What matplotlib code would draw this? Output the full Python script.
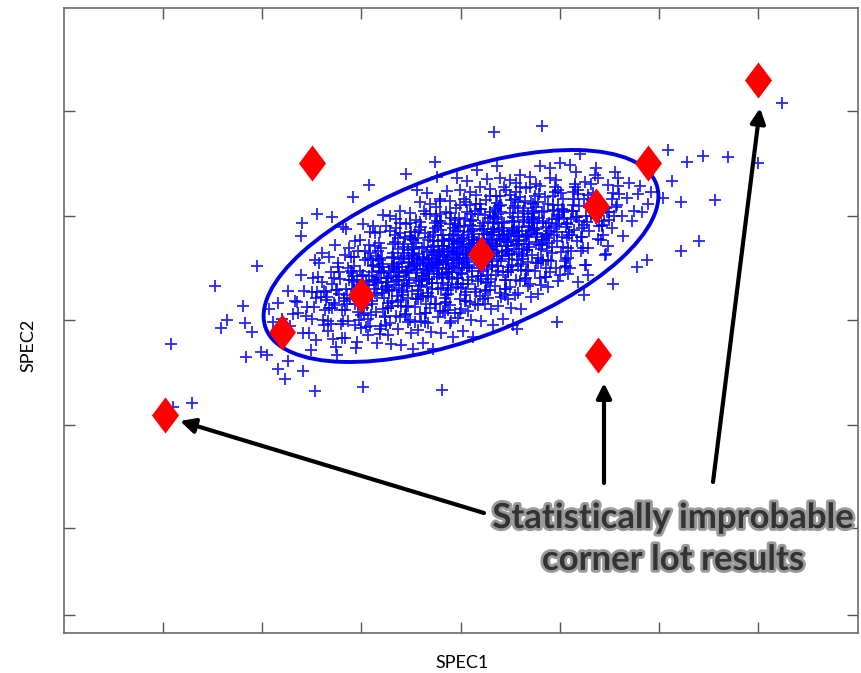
import numpy as np
import matplotlib.pyplot as plt
from matplotlib.patches import Ellipse
import matplotlib.patheffects as pe

# SPEC1 / SPEC2 in arbitrary units, zero at the nominal process point
cloud = [
    (-192, -53), (-188, -66),
    (-183, -47), (-179, -63), (-182, -72),
    (-173, -35), (-168, -58), (-171, -70), (-166, -45),
    (-164, -46), (-158, -77), (-160, -19), (-163, -57), (-157, -35),
    (-154, -51), (-148, -22), (-152, -77), (-149, -36), (-155, -60), (-146, -4), (-150, -94),
    (-144, -36), (-138, -64), (-142, -7), (-136, -54), (-140, -41), (-145, -84), (-139, 3), (-137, -69),
    (-134, -41), (-127, -22), (-133, -75), (-129, -28), (-126, -49), (-132, -1), (-128, -83), (-135, -36),
    (-130, -16), (-125, -91),
    (-124, -34), (-118, -65), (-123, -7), (-117, -45), (-121, -23), (-119, -82), (-126, 11), (-116, -54),
    (-122, -16), (-124, -99), (-118, 29),
    (-114, -39), (-107, -10), (-113, -65), (-109, -24), (-106, -48), (-112, 8), (-116, -82), (-108, -33),
    (-110, -15), (-105, -92), (-115, 27), (-111, -43), (-107, -1),
    (-104, -24), (-98, -52), (-103, 5), (-99, -42), (-102, -29), (-100, -72), (-106, 15), (-97, -57),
    (-101, -15), (-104, -86), (-98, 32), (-103, -37), (-96, -4), (-102, -64), (-99, -20),
    (-94, -29), (-88, -10), (-93, -63), (-89, -16), (-86, -37), (-92, 11), (-95, -71), (-87, -24),
    (-90, -4), (-93, -79), (-88, 30), (-95, -43), (-91, 3), (-85, -56), (-92, -20), (-89, -48),
    (-84, -22), (-78, -53), (-83, 5), (-79, -33), (-82, -11), (-80, -70), (-86, 23), (-77, -42),
    (-81, -4), (-84, -87), (-78, 41), (-83, -27), (-80, -16), (-76, -61), (-82, 13), (-79, -37),
    (-85, 0), (-81, -78),
    (-74, -26), (-68, 3), (-73, -52), (-69, -11), (-72, -35), (-66, 21), (-75, -69), (-70, -20),
    (-67, -2), (-73, -79), (-71, 40), (-74, -30), (-68, 12), (-65, -60), (-72, -15), (-69, -45),
    (-75, 30), (-70, -88), (-67, -8), (-73, -22),
    (-64, -11), (-58, -39), (-63, 18), (-59, -29), (-62, -16), (-56, -59), (-65, 28), (-60, -44),
    (-57, -2), (-63, -73), (-61, 45), (-64, -24), (-58, 9), (-55, -51), (-62, -7), (-59, -34),
    (-65, 37), (-60, -89), (-57, 3), (-63, -21), (-61, 23),
    (-54, -16), (-48, 3), (-53, -50), (-49, -3), (-52, -24), (-46, 24), (-55, -58), (-50, -11),
    (-47, 9), (-53, -66), (-51, 43), (-54, -30), (-48, 16), (-45, -43), (-52, -7), (-49, -35),
    (-55, 32), (-50, -77), (-47, 0), (-53, -14), (-51, 20), (-48, -93),
    (-44, -9), (-38, -40), (-43, 18), (-39, -20), (-42, 2), (-36, -57), (-45, 36), (-40, -29),
    (-37, 9), (-43, -74), (-41, 54), (-44, -14), (-38, -3), (-35, -48), (-42, 26), (-39, -24),
    (-45, 13), (-40, -65), (-37, 45), (-43, -34), (-41, -7), (-38, -87), (-44, 66),
    (-34, -14), (-28, 15), (-33, -40), (-29, 1), (-32, -23), (-26, 33), (-35, -57), (-30, -8),
    (-27, 10), (-33, -67), (-31, 52), (-34, -18), (-28, 24), (-25, -48), (-32, -3), (-29, -33),
    (-35, 42), (-30, -76), (-27, 4), (-33, -10), (-31, 19), (-28, -93), (-34, 63), (-29, -27),
    (-24, 1), (-18, -27), (-23, 30), (-19, -17), (-22, -4), (-16, -47), (-25, 40), (-20, -32),
    (-17, 10), (-23, -61), (-21, 57), (-24, -12), (-18, 21), (-15, -39), (-22, 5), (-19, -22),
    (-25, 49), (-20, -77), (-17, 15), (-23, -9), (-21, 35), (-18, -55), (-24, 79), (-19, -19),
    (-22, -6),
    (-14, -4), (-8, 15), (-13, -38), (-9, 9), (-12, -12), (-6, 36), (-15, -46), (-10, 1),
    (-7, 21), (-13, -54), (-11, 55), (-14, -18), (-8, 28), (-5, -31), (-12, 5), (-9, -23),
    (-15, 44), (-10, -65), (-7, 12), (-13, -2), (-11, 32), (-8, -81), (-14, 65), (-9, -10),
    (-12, 17),
    (-4, 3), (2, -28), (-3, 30), (1, -8), (-2, 14), (4, -45), (-5, 48), (0, -17),
    (3, 21), (-3, -62), (-1, 66), (-4, -2), (2, 9), (5, -36), (-2, 38), (1, -12),
    (-5, 25), (0, -53), (3, 57), (-3, -22), (-1, 5), (2, -75), (-4, 78), (1, 17),
    (-2, -4),
    (6, -2), (12, 27), (7, -28), (11, 13), (8, -11), (14, 45), (5, -45), (10, 4),
    (13, 22), (7, -55), (9, 64), (6, -6), (12, 36), (15, -36), (8, 9), (11, -21),
    (5, 54), (10, -64), (13, 16), (7, 2), (9, 31), (12, -81), (6, 75), (11, -15),
    (8, 11),
    (16, 13), (22, -15), (17, 42), (21, -5), (18, 8), (24, -35), (15, 52), (20, -20),
    (23, 22), (17, -49), (19, 69), (16, 0), (22, 33), (25, -27), (18, 17), (21, -10),
    (15, 61), (20, -65), (23, 27), (17, 3), (19, 47), (22, -43), (16, 86), (21, -7),
    (18, 6),
    (26, 8), (32, 27), (27, -26), (31, 21), (28, 0), (34, 48), (25, -34), (30, 13),
    (33, 33), (27, -42), (29, 67), (26, -6), (32, 40), (35, -19), (28, 17), (31, -11),
    (25, 56), (30, -53), (33, 24), (27, 10), (29, 44), (32, -69), (26, 77), (31, 2),
    (36, 15), (42, -16), (37, 42), (41, 4), (38, 26), (44, -33), (35, 60), (40, -5),
    (43, 33), (37, -50), (39, 78), (36, 10), (42, 21), (45, -24), (38, 50), (41, 0),
    (35, 37), (40, -41), (43, 69), (37, -10), (39, 17), (42, -63), (36, 90),
    (46, 10), (52, 39), (47, -16), (51, 25), (48, 1), (54, 57), (45, -33), (50, 16),
    (53, 34), (47, -43), (49, 76), (46, 6), (52, 48), (55, -24), (48, 21), (51, -9),
    (45, 66), (50, -52), (53, 28), (47, 14), (49, 43), (52, -69),
    (56, 25), (62, -3), (57, 54), (61, 7), (58, 20), (64, -23), (55, 64), (60, -8),
    (63, 34), (57, -37), (59, 81), (56, 12), (62, 45), (65, -15), (58, 29), (61, 2),
    (55, 73), (60, -53), (63, 39), (57, 15), (59, 59),
    (66, 20), (72, 39), (67, -14), (71, 33), (68, 12), (74, 60), (65, -22), (70, 25),
    (73, 45), (67, -30), (69, 79), (66, 6), (72, 52), (75, -7), (68, 29), (71, 1),
    (65, 68), (70, -41), (73, 36), (67, 22),
    (76, 27), (82, -4), (77, 54), (81, 16), (78, 38), (84, -21), (75, 72), (80, 7),
    (83, 45), (77, -38), (79, 90), (76, 22), (82, 33), (85, -12), (78, 62), (81, 12),
    (75, 49), (80, -29),
    (86, 22), (92, 51), (87, -4), (91, 37), (88, 13), (94, 69), (85, -21), (90, 28),
    (93, 46), (87, -31), (89, 88), (86, 18), (92, 60), (95, -12), (88, 33), (91, 3),
    (96, 37), (102, 9), (97, 66), (101, 19), (98, 32), (104, -11), (95, 76), (100, 4),
    (103, 46), (97, -25), (99, 93), (96, 24), (102, 57), (105, -3), (98, 41),
    (106, 32), (112, 51), (107, -2), (111, 45), (108, 24), (114, 72), (105, -10), (110, 37),
    (113, 57), (107, -18), (109, 91), (106, 18), (112, 64),
    (116, 39), (122, 8), (117, 66), (121, 28), (118, 50), (124, -9), (115, 84), (120, 19),
    (123, 57), (117, -26), (119, 102),
    (126, 34), (132, 63), (127, 8), (131, 49), (128, 25), (134, 81), (125, -9), (130, 40),
    (133, 58), (127, -19),
    (136, 49), (142, 21), (137, 78), (141, 31), (138, 44), (144, 1), (135, 88), (140, 16),
    (146, 44), (152, 63), (147, 10), (151, 57), (148, 36), (154, 84), (145, 2),
    (156, 51), (162, 20), (157, 78), (161, 40), (158, 62),
    (166, 58), (171, 35), (168, 73), (173, 45),
    (177, 62), (181, 44), (179, 70),
    (187, 52), (190, 64),
]

# the dense middle of the cloud
cloud_core = [
    (-145, -42), (-149, -63), (-143, -21), (-147, -51),
    (-135, -44), (-139, -26), (-133, -65), (-137, -35), (-132, -52),
    (-125, -34), (-129, -52), (-123, -11), (-127, -47), (-122, -38), (-130, -68),
    (-115, -33), (-119, -54), (-113, -12), (-117, -42), (-112, -24), (-120, -68), (-116, 1), (-114, -48),
    (-105, -35), (-109, -17), (-103, -56), (-107, -26), (-102, -43), (-110, -1), (-106, -69), (-104, -31),
    (-108, -20),
    (-95, -25), (-99, -43), (-93, -2), (-97, -38), (-92, -29), (-100, -59), (-96, 5), (-94, -49),
    (-98, -19), (-91, -70), (-101, 16),
    (-85, -24), (-89, -45), (-83, -3), (-87, -33), (-82, -15), (-90, -59), (-86, 10), (-84, -39),
    (-88, -9), (-81, -73), (-91, 24), (-85, -26),
    (-75, -26), (-79, -8), (-73, -47), (-77, -17), (-72, -34), (-80, 8), (-76, -60), (-74, -22),
    (-78, -11), (-71, -67), (-81, 24), (-75, -31), (-79, -2), (-73, -52),
    (-65, -16), (-69, -34), (-63, 7), (-67, -29), (-62, -20), (-70, -50), (-66, 14), (-64, -40),
    (-68, -10), (-61, -61), (-71, 25), (-65, -25), (-69, -1), (-63, -46), (-67, -13), (-62, -32),
    (-55, -15), (-59, -36), (-53, 6), (-57, -24), (-52, -6), (-60, -50), (-56, 19), (-54, -30),
    (-58, 0), (-51, -64), (-61, 33), (-55, -17), (-59, -11), (-53, -42), (-57, 12), (-52, -27),
    (-60, -3),
    (-45, -17), (-49, 1), (-43, -38), (-47, -8), (-42, -25), (-50, 17), (-46, -51), (-44, -13),
    (-48, -2), (-41, -58), (-51, 33), (-45, -22), (-49, 7), (-43, -43), (-47, -10), (-42, -30),
    (-50, 24), (-46, -66), (-44, -5),
    (-35, -7), (-39, -25), (-33, 16), (-37, -20), (-32, -11), (-40, -41), (-36, 23), (-34, -31),
    (-38, -1), (-31, -52), (-41, 34), (-35, -16), (-39, 8), (-33, -37), (-37, -4), (-32, -23),
    (-40, 29), (-36, -66), (-34, 4), (-38, -13),
    (-25, -6), (-29, -27), (-23, 15), (-27, -15), (-22, 3), (-30, -41), (-26, 28), (-24, -21),
    (-28, 9), (-21, -55), (-31, 42), (-25, -8), (-29, -2), (-23, -33), (-27, 21), (-22, -18),
    (-30, 6), (-26, -48), (-24, 35), (-28, -12), (-21, 0),
    (-15, -8), (-19, 10), (-13, -29), (-17, 1), (-12, -16), (-20, 26), (-16, -42), (-14, -4),
    (-18, 7), (-11, -49), (-21, 42), (-15, -13), (-19, 16), (-13, -34), (-17, -1), (-12, -21),
    (-20, 33), (-16, -57), (-14, 4), (-18, -6), (-11, 21), (-21, 55),
    (-5, 2), (-9, -16), (-3, 25), (-7, -11), (-2, -2), (-10, -32), (-6, 32), (-4, -22),
    (-8, 8), (-1, -43), (-11, 43), (-5, -7), (-9, 17), (-3, -28), (-7, 5), (-2, -14),
    (-10, 38), (-6, -57), (-4, 13), (-8, -4), (-1, 29), (-11, -67),
    (5, 3), (1, -18), (7, 24), (3, -6), (8, 12), (0, -32), (4, 37), (6, -12),
    (2, 18), (9, -46), (-1, 51), (5, 1), (1, 7), (7, -24), (3, 30), (8, -9),
    (0, 15), (4, -39), (6, 44), (2, -3), (9, 9), (-1, -57),
    (15, 1), (11, 19), (17, -20), (13, 10), (18, -7), (10, 35), (14, -33), (16, 5),
    (12, 16), (19, -40), (9, 51), (15, -4), (11, 25), (17, -25), (13, 8), (18, -12),
    (10, 42), (14, -48), (16, 13), (12, 3), (19, 30),
    (25, 11), (21, -7), (27, 34), (23, -2), (28, 7), (20, -23), (24, 41), (26, -13),
    (22, 17), (29, -34), (19, 52), (25, 2), (21, 26), (27, -19), (23, 14), (28, -5),
    (20, 47), (24, -48), (26, 22), (22, 5), (29, 38),
    (35, 12), (31, -9), (37, 33), (33, 3), (38, 21), (30, -23), (34, 46), (36, -3),
    (32, 27), (39, -37), (29, 60), (35, 10), (31, 16), (37, -15), (33, 39), (38, 0),
    (30, 24), (34, -30), (36, 53), (32, 6),
    (45, 10), (41, 28), (47, -11), (43, 19), (48, 2), (40, 44), (44, -24), (46, 14),
    (42, 25), (49, -31), (39, 60), (45, 5), (41, 34), (47, -16), (43, 17), (48, -3),
    (40, 51), (44, -39), (46, 22),
    (55, 20), (51, 2), (57, 43), (53, 7), (58, 16), (50, -14), (54, 50), (56, -4),
    (52, 26), (59, -25), (49, 61), (55, 11), (51, 35), (57, -10), (53, 23), (58, 4),
    (50, 56), (54, -39),
    (65, 21), (61, 0), (67, 42), (63, 12), (68, 30), (60, -14), (64, 55), (66, 6),
    (62, 36), (69, -28), (59, 69), (65, 19), (61, 25), (67, -6), (63, 48), (68, 9),
    (75, 19), (71, 37), (77, -2), (73, 28), (78, 11), (70, 53), (74, -15), (76, 23),
    (72, 34), (79, -22), (69, 69), (75, 14), (71, 43), (77, -7), (73, 26),
    (85, 29), (81, 11), (87, 52), (83, 16), (88, 25), (80, -5), (84, 59), (86, 5),
    (82, 35), (89, -16), (79, 70), (85, 20), (81, 44),
    (95, 30), (91, 9), (97, 51), (93, 21), (98, 39), (90, -5), (94, 64), (96, 15),
    (92, 45), (99, -19), (89, 78),
    (105, 29), (101, 47), (107, 8), (103, 38), (108, 21), (100, 63), (104, -5), (106, 33),
    (102, 44), (109, -12),
    (115, 39), (111, 21), (117, 62), (113, 26), (118, 35), (110, 5), (114, 69), (116, 15),
    (112, 45),
    (125, 40), (121, 19), (127, 61), (123, 31), (128, 49), (120, 5), (124, 74),
    (135, 38), (131, 56), (137, 17), (133, 47), (138, 30), (130, 72),
    (145, 48), (141, 30), (147, 71), (143, 35), (148, 44),
    (155, 49), (151, 28), (157, 70), (153, 40),
]

tails = [
    (321, 153), (207, 106), (226, 94), (242, 100), (267, 99), (297, 93), (211, 75), (220, 54),
    (254, 56), (238, 15), (220, 5), (186, -4), (176, -11), (152, -28), (202, 58), (81, 130),
    (123, -39), (96, -66), (56, -73), (33, 124), (-26, 94), (-55, 82), (-92, 71), (-108, 59),
    (-98, -131), (-19, -134), (-144, 42), (-159, 33), (-160, 20), (-129, 39), (-204, -10),
    (-246, -30), (-218, -50), (-234, -64), (-240, -72), (-216, -67), (-209, -76), (-290, -88),
    (-215, -101), (-200, -96), (-194, -99), (-173, -105), (-183, -113), (-176, -123),
    (-158, -115), (-146, -135), (-269, -147), (-288, -151),
]

# corner lots
corner_x = [-296, -179, -149, -100, 20, 135, 187, 137, 297]
corner_y = [-159, -76, 93, -39, 2, 50, 93, -99, 176]

# covariance behind the 95 % contour
sxx, syy, sxy = 38967.0, 11236.0, 11822.0

# arrows: (tail, head) of the three flagged lots
arrow_tails = [(23, -257), (143, -227), (252, -226)]
arrow_heads = [(-281, -165), (143, -127), (299, 148)]

W, H = 861, 673
fig = plt.figure(figsize=(W / 100, H / 100), dpi=100)
ax = fig.add_axes([64 / W, 40 / H, 794 / W, 625 / H])
ax.set_xlim(-397, 397)
ax.set_ylim(-377, 248)

pts = np.array(cloud + cloud_core + tails)
ax.plot(pts[:, 0], pts[:, 1], linestyle='none', marker='+', markersize=8.5,
        markeredgewidth=1.3, color='#0000ff', alpha=0.85, zorder=2)

vals, vecs = np.linalg.eigh(np.array([[sxx, sxy], [sxy, syy]]))
angle = np.degrees(np.arctan2(vecs[1, 1], vecs[0, 1]))
ax.add_patch(Ellipse((0, 0), 2 * np.sqrt(vals[1]), 2 * np.sqrt(vals[0]), angle=angle,
                     fill=False, edgecolor='#0000e6', linewidth=2.8, zorder=3))

diamond = [(0, 1), (0.75, 0), (0, -1), (-0.75, 0), (0, 1)]
ax.plot(corner_x, corner_y, linestyle='none', marker=diamond, markersize=26,
        color='#ff0000', markeredgewidth=0, zorder=4)

for (tx, ty), (hx, hy) in zip(arrow_tails, arrow_heads):
    ax.annotate('', xy=(hx, hy), xytext=(tx, ty),
                arrowprops=dict(arrowstyle='-|>', color='black', lw=3,
                                mutation_scale=22, shrinkA=0, shrinkB=0), zorder=5)

ax.text(212, -283, 'Statistically improbable\ncorner lot results', ha='center', va='center',
        fontsize=25, fontweight='bold', family='Lato', color='#333333', linespacing=1.38,
        path_effects=[pe.withStroke(linewidth=4, foreground='#9a9a9a')], zorder=6)

ax.set_xticks([-298, -199, -100, 0, 99, 198, 297])
ax.set_yticks([145, 40, -64, -169, -272, -359])
ax.tick_params(direction='in', length=8, width=1, color='#555555', top=True, right=True,
               labelbottom=False, labelleft=False)
for s in ax.spines.values():
    s.set_color('#6a6a6a')
    s.set_linewidth(1.2)

fig.text(462 / W, 1 - 663 / H, 'SPEC1', ha='center', va='center', fontsize=13, family='Lato')
fig.text(28 / W, 1 - 345 / H, 'SPEC2', ha='center', va='center', fontsize=13, family='Lato',
         rotation=90)

fig.savefig('out.png', dpi=100)
